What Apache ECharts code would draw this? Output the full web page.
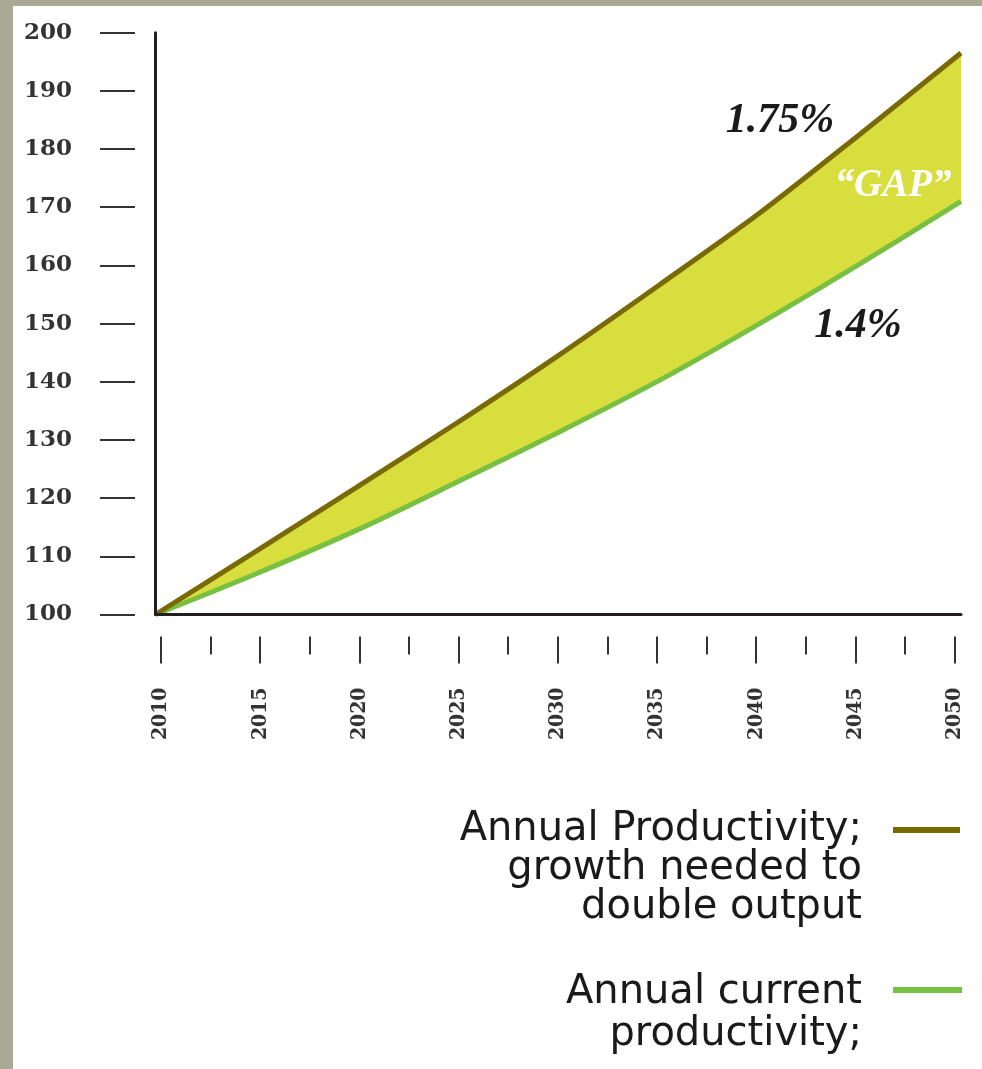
<!DOCTYPE html>
<html>
<head>
<meta charset="utf-8">
<script src="https://cdn.jsdelivr.net/npm/echarts@6/dist/echarts.min.js"></script>
<style>
	html, body {margin: 0; padding: 0;}
	body {width: 982px; height: 1069px; background: #aaa996; position: relative; overflow: hidden;}
	#panel {position: absolute; left: 13px; top: 6px; right: 0; bottom: 0; background: #fff;}
	#chart {position: absolute; left: 0; top: 0; width: 982px; height: 1069px;}
</style>
</head>
<body>
<div id="panel"></div>
<div id="chart"></div>
<script>
// values, every 5 years
var aYears = ["2010", "2015", "2020", "2025", "2030", "2035", "2040", "2045", "2050"];
var aNeeded = [100, 110.9, 121.9, 133, 144.5, 156.6, 169, 182.6, 196.5];   // 1.75%
var aCurrent = [100, 107, 114.5, 122.8, 131.3, 140.2, 150, 160.3, 171];     // 1.4%
var aLegendNeeded = ["Annual Productivity;", "growth needed to", "double output"];
var aLegendCurrent = ["Annual current", "productivity;"];

var sOlive = "#786900",
	sGreen = "#77c043",
	sFill = "#d7de3e",
	sAxis = "#231f20";

// band between the two curves, stacked on the lower one
var aGap = aNeeded.map(function (v, i) { return v - aCurrent[i]; });

var oChart = echarts.init(document.getElementById("chart"));
var oChartOpt = {
	animation: false,
	grid: [
		{left: 155.5, right: 21, top: 32.7, bottom: 454.5, outerBoundsMode: "none", containLabel: false},
		{left: 161, right: 27.5, top: 32.7, bottom: 454.5, outerBoundsMode: "none", containLabel: false}
	],
	xAxis: [{
		gridIndex: 0,
		type: "category",
		boundaryGap: false,
		data: aYears,
		z: 10,
		axisLine: {show: true, lineStyle: {color: sAxis, width: 3}},
		axisTick: {show: false},
		axisLabel: {show: false},
		splitLine: {show: false}
	}, {
		gridIndex: 1,
		type: "value",
		min: 2010,
		max: 2050,
		interval: 5,
		offset: 22,
		axisLine: {show: false},
		axisTick: {show: true, length: 27, lineStyle: {color: "#333", width: 2}},
		minorTick: {show: true, splitNumber: 2, length: 18, lineStyle: {color: "#333", width: 2}},
		axisLabel: {
			rotate: 90,
			margin: 51,
			color: "#333",
			fontFamily: "DejaVu Serif Condensed",
			fontWeight: "bold",
			fontSize: 21,
			formatter: function (value) {
				return String(value);
			}
		},
		splitLine: {show: false},
		minorSplitLine: {show: false}
	}],
	yAxis: [{
		gridIndex: 0,
		type: "value",
		position: "left",
		min: 100,
		max: 200,
		z: 10,
		axisLine: {show: true, lineStyle: {color: sAxis, width: 3}},
		axisTick: {show: false},
		axisLabel: {show: false},
		splitLine: {show: false}
	}, {
		gridIndex: 0,
		type: "value",
		position: "left",
		min: 100,
		max: 200,
		interval: 10,
		offset: 20.5,
		axisLine: {show: false},
		axisTick: {show: true, length: 35, lineStyle: {color: "#333", width: 2}},
		axisLabel: {
			margin: 63,
			color: "#333",
			fontFamily: "DejaVu Serif",
			fontWeight: "bold",
			fontSize: 23
		},
		splitLine: {show: false}
	}, {
		gridIndex: 1,
		type: "value",
		show: false,
		min: 100,
		max: 200
	}],
	series: [
		{
			type: "line",
			stack: "gap",
			data: aCurrent,
			smooth: 0.3,
			symbol: "none",
			lineStyle: {width: 0, opacity: 0},
			silent: true
		},
		{
			type: "line",
			stack: "gap",
			data: aGap,
			smooth: 0.3,
			symbol: "none",
			lineStyle: {width: 0, opacity: 0},
			areaStyle: {color: sFill, opacity: 1},
			silent: true
		},
		{
			name: aLegendCurrent.join(" "),
			type: "line",
			data: aCurrent,
			smooth: 0.3,
			symbol: "none",
			lineStyle: {color: sGreen, width: 5},
			z: 4
		},
		{
			name: aLegendNeeded.join(" "),
			type: "line",
			data: aNeeded,
			smooth: 0.3,
			symbol: "none",
			lineStyle: {color: sOlive, width: 5},
			z: 5
		}
	],
	graphic: [
		{type: "text", x: 780, y: 121, z: 10, style: {text: "1.75%", font: "italic bold 42px 'Liberation Serif'", fill: "#1a1a1a", align: "center", verticalAlign: "middle"}},
		{type: "text", x: 858, y: 326, z: 10, style: {text: "1.4%", font: "italic bold 42px 'Liberation Serif'", fill: "#1a1a1a", align: "center", verticalAlign: "middle"}},
		{type: "text", x: 893, y: 186, z: 10, style: {text: "\u201cGAP\u201d", font: "italic bold 39px 'Liberation Serif'", fill: "#ffffff", align: "center", verticalAlign: "middle"}},
		// legend
		{type: "text", x: 862, y: 810, z: 10, style: {text: aLegendNeeded.join("\n"), font: "40px 'DejaVu Sans'", lineHeight: 39, fill: "#1a1a1a", align: "right", verticalAlign: "top"}},
		{type: "rect", z: 10, shape: {x: 893, y: 827, width: 67, height: 6}, style: {fill: sOlive}},
		{type: "text", x: 862, y: 972, z: 10, style: {text: aLegendCurrent.join("\n"), font: "40px 'DejaVu Sans'", lineHeight: 42, fill: "#1a1a1a", align: "right", verticalAlign: "top"}},
		{type: "rect", z: 10, shape: {x: 893, y: 987, width: 69, height: 6}, style: {fill: sGreen}}
	]
};
oChart.setOption(oChartOpt);
</script>
</body>
</html>
